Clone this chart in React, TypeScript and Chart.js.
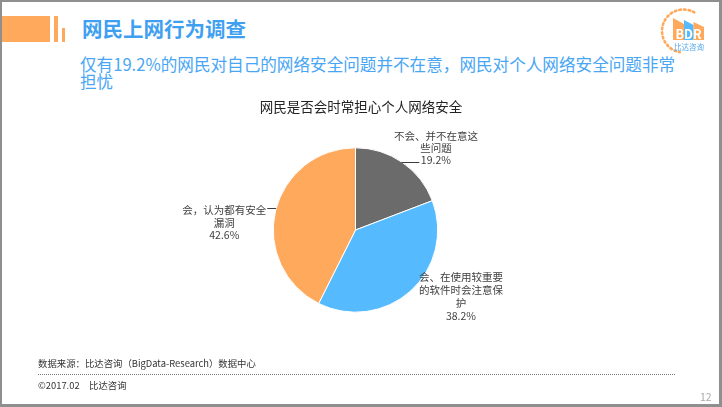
import React, { useEffect, useRef } from "react";
import { Chart, registerables } from "chart.js";

Chart.register(...registerables);

// ---- data ----
const CATEGORIES: string[][] = [
  ["不会、并不在意这", "些问题"],
  ["会、在使用较重要", "的软件时会注意保", "护"],
  ["会，认为都有安全", "漏洞"],
];
const VALUES: number[] = [19.2, 38.2, 42.6];
const COLORS: string[] = ["#6b6b6b", "#56bbfe", "#ffa95c"];
const CHART_TITLE = "网民是否会时常担心个人网络安全";
const PAGE_TITLE = "网民上网行为调查";
const SUBTITLE_LINES: string[] = [
  "仅有19.2%的网民对自己的网络安全问题并不在意，网民对个人网络安全问题非常",
  "担忧",
];
const SOURCE_TEXT = "数据来源：比达咨询（BigData-Research）数据中心";
const COPYRIGHT_TEXT = "©2017.02　比达咨询";
const PAGE_NUMBER = "12";

const FONT = "'Noto Sans CJK SC', 'Noto Sans', sans-serif";

// label placement relative to the pie (in units of radius)
const LABEL_PLACEMENT = [
  { dx: 0.978, dy: -0.998, lh: 12.2, leader: { line: 2, side: "left", dy: 1.7 } },
  { dx: 1.283, dy: 0.811, lh: 12.8, leader: null },
  { dx: -1.596, dy: -0.09, lh: 12.5, leader: { line: 0, side: "right", dy: -1.7 } },
];

const pieLabels = {
  id: "pieLabels",
  afterDatasetsDraw(chart: any) {
    const ctx: CanvasRenderingContext2D = chart.ctx;
    const meta = chart.getDatasetMeta(0);
    ctx.save();
    ctx.font = `10.5px ${FONT}`;
    ctx.fillStyle = "#404040";
    ctx.strokeStyle = "#404040";
    ctx.lineWidth = 1;
    ctx.textAlign = "center";
    ctx.textBaseline = "middle";
    meta.data.forEach((arc: any, i: number) => {
      const { x: cx, y: cy, outerRadius: r } = arc.getProps(["x", "y", "outerRadius"], true);
      const p = LABEL_PLACEMENT[i];
      const lines = [...CATEGORIES[i], VALUES[i].toFixed(1) + "%"];
      const lx = cx + p.dx * r;
      const ly = cy + p.dy * r;
      const top = ly - ((lines.length - 1) * p.lh) / 2;
      lines.forEach((t, k) => ctx.fillText(t, lx, top + k * p.lh));
      if (p.leader) {
        const k = p.leader.line;
        const y = top + k * p.lh + p.leader.dy;
        const w = ctx.measureText(lines[k]).width;
        const half = Math.sqrt(Math.max(r * r - (y - cy) * (y - cy), 0));
        let x0: number, x1: number;
        if (p.leader.side === "left") {
          x0 = cx + half;
          x1 = lx - w / 2 - 1.5;
        } else {
          x0 = lx + w / 2 + 1;
          x1 = cx - half;
        }
        ctx.beginPath();
        ctx.moveTo(x0, Math.round(y) + 0.5);
        ctx.lineTo(x1, Math.round(y) + 0.5);
        ctx.stroke();
      }
    });
    ctx.restore();
  },
};

const chartTitle = {
  id: "chartTitleCustom",
  afterDraw(chart: any) {
    const ctx: CanvasRenderingContext2D = chart.ctx;
    ctx.save();
    ctx.font = `13.5px ${FONT}`;
    ctx.fillStyle = "#222222";
    ctx.textAlign = "center";
    ctx.textBaseline = "middle";
    ctx.fillText(CHART_TITLE, chart.width / 2, 11.7);
    ctx.restore();
  },
};

function PieChart() {
  const ref = useRef<HTMLCanvasElement | null>(null);
  useEffect(() => {
    if (!ref.current) return;
    const chart = new Chart(ref.current, {
      type: "pie",
      data: {
        labels: CATEGORIES.map((c) => c.join("")),
        datasets: [
          {
            data: VALUES,
            backgroundColor: COLORS,
            borderColor: "#ffffff",
            borderWidth: 1,
            hoverOffset: 0,
            offset: 0,
          },
        ],
      },
      options: {
        animation: false,
        responsive: false,
        events: [],
        layout: { padding: { left: 112.5, right: 123.5, top: 52.3, bottom: 22.3 } },
        plugins: {
          legend: { display: false },
          title: { display: false },
          tooltip: { enabled: false },
        },
      },
      plugins: [pieLabels, chartTitle],
    });
    return () => chart.destroy();
  }, []);
  return (
    <canvas
      ref={ref}
      width={402}
      height={240}
      style={{ position: "absolute", left: 160, top: 95, width: 402, height: 240 }}
    />
  );
}

function Logo() {
  const cx = 683.5, cy = 31, r = 21.5;
  const a0 = (-60 * Math.PI) / 180, a1 = (100 * Math.PI) / 180;
  const sx = cx + r * Math.cos(a0), sy = cy + r * Math.sin(a0);
  const ex = cx + r * Math.cos(a1), ey = cy + r * Math.sin(a1);
  const arc = `M ${sx} ${sy} A ${r} ${r} 0 1 0 ${ex} ${ey}`;
  return (
    <svg
      width={722}
      height={407}
      style={{ position: "absolute", left: 0, top: 0, pointerEvents: "none" }}
    >
      <path d={arc} fill="none" stroke="#ffa95c" strokeWidth={2.6} strokeDasharray="1.6 3" strokeLinecap="round" />
      <polygon points="673,18 684,24 684,40 673,40" fill="#ffa95c" />
      <polygon points="684,20 693.5,25 693.5,40 684,40" fill="#56bbfe" />
      <polygon points="693.5,22 704,27 704,40 693.5,40" fill="#ffa95c" />
      <text x={688.5} y={38.5} textAnchor="middle" fill="#ffffff" fontFamily={FONT} fontWeight={700} fontSize={12.5}>
        BDR
      </text>
      <text x={689} y={49.5} textAnchor="middle" fill="#56a9ee" fontFamily={FONT} fontSize={7.5}>
        比达咨询
      </text>
    </svg>
  );
}

export default function App() {
  useEffect(() => {
    document.body.style.margin = "0";
  }, []);
  const text = (extra: React.CSSProperties): React.CSSProperties => ({
    position: "absolute",
    whiteSpace: "nowrap",
    fontFamily: FONT,
    ...extra,
  });
  return (
    <div
      style={{
        position: "fixed",
        left: 0,
        top: 0,
        width: 722,
        height: 407,
        background: "#ffffff",
        boxSizing: "border-box",
        borderTop: "2px solid #8f8f8f",
        borderLeft: "2px solid #8f8f8f",
        borderRight: "3px solid #8f8f8f",
        borderBottom: "3px solid #8f8f8f",
        overflow: "hidden",
      }}
    >
      <div style={{ position: "absolute", left: 0, top: 0, width: 722, height: 407, marginLeft: -2, marginTop: -2 }}>
        <div style={{ position: "absolute", left: 0, top: 16, width: 50, height: 26, background: "#ffa95c" }} />
        <div style={{ position: "absolute", left: 54, top: 16, width: 4, height: 26, background: "#ffa95c" }} />
        <div style={{ position: "absolute", left: 62, top: 28, width: 3, height: 14, background: "#ffa95c" }} />

        <div style={text({ left: 82, top: 15, fontSize: 20.5, lineHeight: "26px", fontWeight: 700, color: "#3f9ff1" })}>
          {PAGE_TITLE}
        </div>

        {SUBTITLE_LINES.map((l, i) => (
          <div
            key={i}
            style={text({ left: 80, top: 55 + i * 17, fontSize: 16.6, lineHeight: "18px", color: "#48a6f4" })}
          >
            {l}
          </div>
        ))}

        <PieChart />
        <Logo />

        <div style={text({ left: 38, top: 356, fontSize: 9.4, lineHeight: "14px", color: "#333333" })}>
          {SOURCE_TEXT}
        </div>
        <div style={{ position: "absolute", left: 38, top: 374, width: 637, borderTop: "1px dotted #7a7a7a" }} />
        <div style={text({ left: 38, top: 378, fontSize: 9.4, lineHeight: "14px", color: "#333333" })}>
          {COPYRIGHT_TEXT}
        </div>
        <div style={text({ left: 700, top: 390, fontSize: 10.5, lineHeight: "14px", color: "#aaaaaa" })}>
          {PAGE_NUMBER}
        </div>
      </div>
    </div>
  );
}
